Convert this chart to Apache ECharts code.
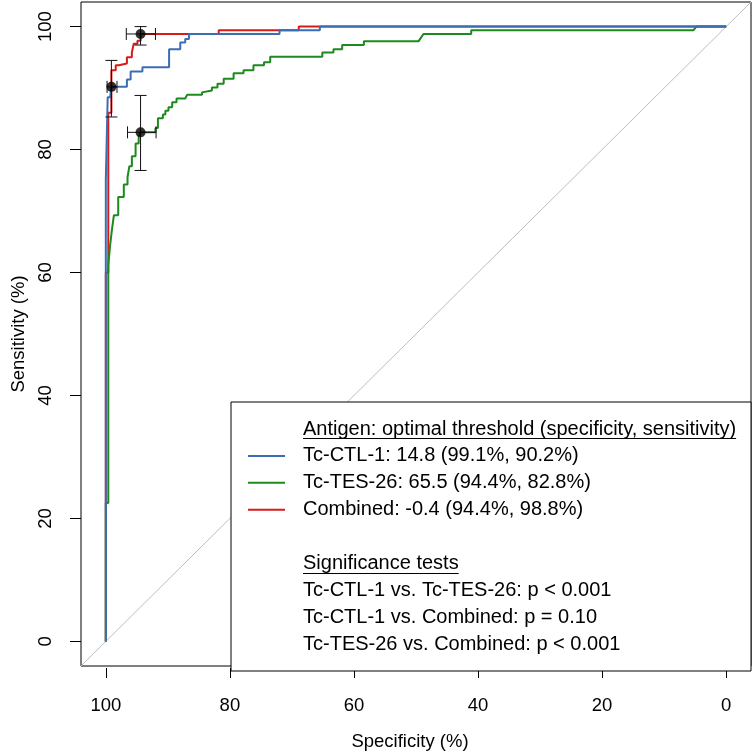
<!DOCTYPE html>
<html><head><meta charset="utf-8">
<script src="https://cdn.jsdelivr.net/npm/echarts@6/dist/echarts.min.js"></script>
<style>html,body{margin:0;padding:0;background:#fff}#c{width:753px;height:756px}</style>
</head><body><div id="c"></div>
<script>
// ---- data ----
const xTicks = [0, 20, 40, 60, 80, 100];
const yTicks = [0, 20, 40, 60, 80, 100];
const chanceLine = [[104, -4], [-4, 104]];
const seriesNames = ['Tc-CTL-1', 'Tc-TES-26', 'Combined'];
const ctl1Curve = [[100,0],[100,75],[99.7,75],[99.7,88.5],[99.3,88.5],[99.1,90.2],[96.6,90.2],[96.6,91.4],[96.0,91.4],[96.0,92.7],[94.1,92.7],[94.1,93.4],[89.8,93.4],[89.8,96.3],[88.0,96.3],[88.0,97.4],[87.2,97.4],[87.2,98.0],[86.6,98.0],[86.6,98.8],[72.0,98.8],[72.0,99.4],[65.5,99.4],[65.5,100],[0,100]];
const tes26Curve = [[100,0],[100,22.5],[99.6,22.5],[99.6,61.2],[99.3,61.2],[99.3,64.5],[99.0,64.5],[99.0,67.1],[98.7,67.1],[98.7,69.3],[98.0,69.3],[98.0,72.3],[97.1,72.3],[97.1,74.3],[96.5,74.3],[96.5,75.5],[96.2,75.5],[96.2,77.3],[95.8,77.3],[95.8,78.9],[95.2,78.9],[95.2,81.0],[94.7,81.0],[94.7,82.2],[94.4,82.2],[94.4,82.8],[92.0,82.8],[92.0,83.5],[91.6,83.5],[91.6,85.1],[90.8,85.1],[90.8,85.7],[90.4,85.7],[90.4,86.3],[89.9,86.3],[89.9,86.9],[89.3,86.9],[89.3,87.7],[88.6,87.7],[88.6,88.3],[87.2,88.3],[87.2,88.6],[86.9,88.6],[86.9,88.9],[84.5,88.9],[84.5,89.3],[84.2,89.3],[84.2,89.6],[82.9,89.6],[82.9,90.1],[82.0,90.1],[82.0,90.7],[81.0,90.7],[81.0,91.5],[79.4,91.5],[79.4,92.4],[77.8,92.4],[77.8,92.9],[76.2,92.9],[76.2,93.7],[74.5,93.7],[74.5,94.2],[73.5,94.2],[73.5,95.1],[65.1,95.1],[65.1,95.8],[63.3,95.8],[63.3,96.3],[61.9,96.3],[61.9,97.0],[58.4,97.0],[58.4,97.6],[49.6,97.6],[48.8,98.8],[41.1,98.8],[41.1,99.4],[5.3,99.4],[4.8,100],[0,100]];
const combinedCurve = [[100,0],[100,60],[99.6,60],[99.6,86],[99.1,86],[99.1,92.9],[98.4,92.9],[98.4,93.7],[97.9,93.7],[97.9,94.0],[96.6,94.0],[96.6,95.0],[95.8,95.0],[95.8,95.8],[95.5,95.8],[95.5,97.2],[94.9,97.2],[94.9,97.7],[94.4,97.7],[94.4,98.8],[81.8,98.8],[81.8,99.4],[68.9,99.4],[68.9,100],[0,100]];
const optThreshold = [14.8, 65.5, -0.4];
const optSpec = [99.1, 94.4, 94.4];
const optSens = [90.2, 82.8, 98.8];
const specCI = [[98.2, 99.8], [91.9, 96.5], [92.0, 96.7]];
const sensCI = [[85.3, 94.5], [76.6, 88.8], [97.0, 100]];
const legendTitle = 'Antigen: optimal threshold (specificity, sensitivity)';
const testTitle = 'Significance tests';
const testLines = ['Tc-CTL-1 vs. Tc-TES-26: p < 0.001', 'Tc-CTL-1 vs. Combined: p = 0.10', 'Tc-TES-26 vs. Combined: p < 0.001'];
const xName = 'Specificity (%)';
const yName = 'Sensitivity (%)';

// ---- styling ----
const colors = ['#3b6db5', '#1c8a1c', '#d91a1a'];
const FONT = '"Liberation Sans", Arial, sans-serif';
const FS = 20;     // legend text
const AFS = 18.5;  // axis text

const chart = echarts.init(document.getElementById('c'), null, {renderer: 'canvas'});

const cv = document.createElement('canvas').getContext('2d');
cv.font = FS + 'px ' + FONT;
const tw = t => cv.measureText(t).width;

const legendLabels = seriesNames.map((n, i) =>
  n + ': ' + optThreshold[i].toFixed(1) + ' (' + optSpec[i].toFixed(1) + '%, ' + optSens[i].toFixed(1) + '%)');

// legend graphic
const LX = 231, LY = 402, LW = 520, LH = 269;
const textX = 303, row0 = 429, rowH = 26.9;
const g = [];
g.push({type: 'rect', shape: {x: LX, y: LY, width: LW, height: LH}, style: {fill: '#fff', stroke: '#000', lineWidth: 1}, z: 100});
const rows = [legendTitle].concat(legendLabels, [''], [testTitle], testLines);
rows.forEach((t, i) => {
  if (!t) return;
  const y = row0 + rowH * i;
  g.push({type: 'text', z: 101, style: {text: t, x: textX, y: y, font: FS + 'px ' + FONT, fill: '#000', align: 'left', verticalAlign: 'middle'}});
});
[0, 5].forEach(i => {
  const y = Math.round(row0 + rowH * i + 9) + 0.5;
  g.push({type: 'line', z: 101, shape: {x1: textX, y1: y, x2: textX + tw(rows[i]), y2: y}, style: {stroke: '#000', lineWidth: 1}});
});
[1, 2, 3].forEach((r, k) => {
  const y = row0 + rowH * r;
  g.push({type: 'line', z: 101, shape: {x1: 248, y1: y, x2: 285, y2: y}, style: {stroke: colors[k], lineWidth: 2}});
});

const errData = optSpec.map((s, i) => [s, optSens[i], specCI[i][0], specCI[i][1], sensCI[i][0], sensCI[i][1]]);
const CAP = 6;

const series = [
  {type: 'line', data: chanceLine, symbol: 'none', lineStyle: {color: '#bebebe', width: 1}, z: 1, silent: true, clip: true},
  {type: 'line', name: seriesNames[2], data: combinedCurve, symbol: 'none', lineStyle: {color: colors[2], width: 2}, z: 2},
  {type: 'line', name: seriesNames[1], data: tes26Curve, symbol: 'none', lineStyle: {color: colors[1], width: 2}, z: 3},
  {type: 'line', name: seriesNames[0], data: ctl1Curve, symbol: 'none', lineStyle: {color: colors[0], width: 2}, z: 4},
  {type: 'custom', z: 5, data: errData, clip: false,
    renderItem: function (params, api) {
      const s = api.value(0), se = api.value(1);
      const h1 = api.coord([api.value(2), se]), h2 = api.coord([api.value(3), se]);
      const v1 = api.coord([s, api.value(4)]), v2 = api.coord([s, api.value(5)]);
      const st = {stroke: '#111', lineWidth: 1};
      const L = (a, b, c, d) => ({type: 'line', shape: {x1: a, y1: b, x2: c, y2: d}, style: st});
      return {type: 'group', children: [
        L(h1[0], h1[1], h2[0], h2[1]),
        L(h1[0], h1[1] - CAP, h1[0], h1[1] + CAP),
        L(h2[0], h2[1] - CAP, h2[0], h2[1] + CAP),
        L(v1[0], v1[1], v2[0], v2[1]),
        L(v1[0] - CAP, v1[1], v1[0] + CAP, v1[1]),
        L(v2[0] - CAP, v2[1], v2[0] + CAP, v2[1])
      ]};
    }},
  {type: 'scatter', z: 6, data: optSpec.map((s, i) => [s, optSens[i]]), symbol: 'circle', symbolSize: 10, itemStyle: {color: '#000'}}
];

chart.setOption({
  animation: false,
  backgroundColor: '#fff',
  grid: {left: 81, top: 2, width: 670, height: 669, show: true, borderColor: '#000', borderWidth: 1, backgroundColor: 'transparent'},
  xAxis: {
    type: 'value', min: -4, max: 104, inverse: true, offset: 2, position: 'bottom',
    name: xName, nameLocation: 'middle', nameGap: 64,
    nameTextStyle: {fontSize: AFS, fontFamily: FONT, color: '#000', padding: [0, 12, 0, 0]},
    axisLine: {show: false, onZero: false},
    axisTick: {show: true, customValues: xTicks, length: 10, lineStyle: {color: '#000'}},
    axisLabel: {customValues: xTicks, fontSize: AFS, fontFamily: FONT, color: '#000', margin: 28},
    splitLine: {show: false}
  },
  yAxis: {
    type: 'value', min: -4, max: 104, position: 'left',
    name: yName, nameLocation: 'middle', nameGap: 53,
    nameTextStyle: {fontSize: AFS, fontFamily: FONT, color: '#000'},
    axisLine: {show: false, onZero: false},
    axisTick: {show: true, customValues: yTicks, length: 11, lineStyle: {color: '#000'}},
    axisLabel: {customValues: yTicks, fontSize: AFS, fontFamily: FONT, color: '#000', margin: 26, rotate: 90},
    splitLine: {show: false}
  },
  graphic: g,
  series: series
});
</script>
</body></html>
